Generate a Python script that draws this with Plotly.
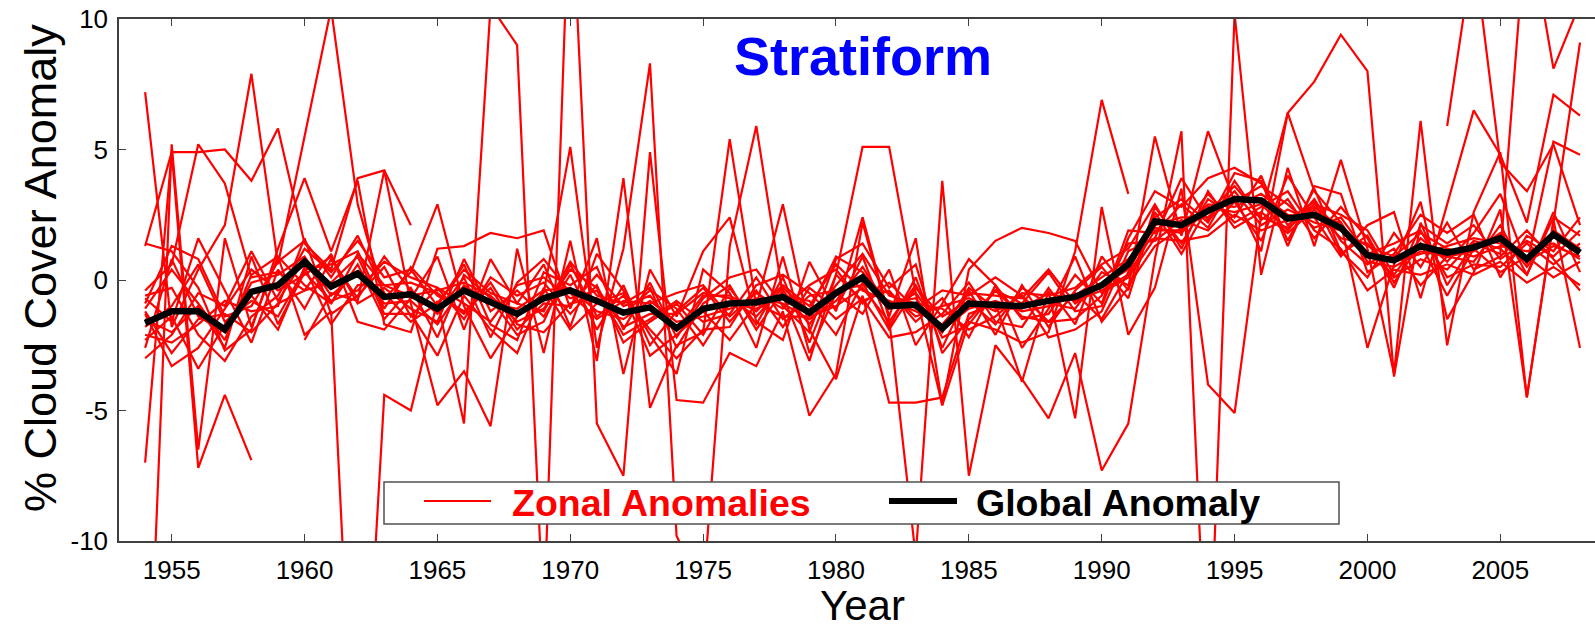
import plotly.graph_objects as go

# ---------------------------------------------------------------------------
# Data: stratiform cloud cover anomaly (%) by year, 1954-2008
# ---------------------------------------------------------------------------
years = list(range(1954, 2009))
N = None  # missing year

global_anomaly = [
    -1.65, -1.2, -1.2, -1.9, -0.45,
    -0.2, 0.7, -0.25, 0.25, -0.65,
    -0.55, -1.1, -0.4, -0.85, -1.3,
    -0.7, -0.4, -0.8, -1.25, -1.05,
    -1.85, -1.1, -0.9, -0.85, -0.65,
    -1.25, -0.5, 0.1, -1.0, -0.95,
    -1.85, -0.9, -0.95, -1.0, -0.8,
    -0.65, -0.2, 0.6, 2.25, 2.1,
    2.65, 3.1, 3.05, 2.35, 2.5,
    2.0, 0.95, 0.75, 1.3, 1.05,
    1.25, 1.6, 0.8, 1.75, 1.05,
]

zone_90s_80s = [
    -20.0, 5.2, -6.5, 1.6, -1.8,
    0.9, -2.1, -1.2, -22.0, -4.4,
    -5.0, -0.8, -5.5, 10.5, 9.0,
    -13.1, 15.8, -5.5, -7.5, 4.9,
    -4.6, -4.7, -2.8, -3.3, -1.2,
    -5.2, -3.6, 2.2, -1.5, -10.6,
    3.8, -7.5, -2.5, -3.8, -5.3,
    -2.8, -7.3, -5.5, 0.8, 5.7,
    -16.7, 10.2, 0.2, 4.3, 1.3,
    4.6, 1.2, -3.6, 6.1, -2.5,
    2.6, 4.9, -4.5, 2.3, -2.6,
]
zone_80s_70s = [
    1.3, 4.9, 4.9, 5.0, 3.8,
    5.8, 1.4, 0.4, 3.9, 4.2,
    2.1, N, N, N, N,
    N, N, N, N, N,
    N, N, N, N, N,
    N, N, N, N, N,
    N, N, N, N, N,
    N, N, N, N, N,
    N, N, N, N, N,
    N, N, N, N, N,
    N, N, N, N, N,
]
zone_70s_60s = [
    -7.0, 4.9, -7.2, -4.4, -6.9,
    N, -2.3, -0.5, -0.8, 4.2,
    -0.9, -4.8, -3.5, -5.6, 1.2,
    -2.8, 1.5, -3.1, 3.9, -4.9,
    -2.5, -2.0, 5.4, -1.0, 2.9,
    -1.9, -3.8, -0.6, -4.7, -4.7,
    -4.5, -1.3, -0.9, -3.9, -0.4,
    -5.3, 2.8, -2.1, -0.3, 3.5,
    -4.0, -5.1, 2.5, 6.4, 3.4,
    2.2, -2.6, 0.6, 3.0, -1.5,
    0.3, 2.7, -4.5, 2.2, 9.1,
]
zone_60s_50s = [
    -0.4, 0.6, 5.2, 3.7, 0.1,
    0.3, -0.4, 1.0, -1.6, -1.9,
    -0.7, 0.9, -1.9, 0.8, -0.9,
    0.6, -1.8, 1.0, -0.4, -2.1,
    -3.6, 0.4, -0.5, -2.6, 0.9,
    -2.8, -0.5, -1.3, 0.4, -2.5,
    -0.9, 0.8, -0.2, -2.6, -1.1,
    0.9, -1.6, -0.3, 5.5, 1.7,
    5.7, 3.0, 1.5, 4.0, 2.4,
    0.9, 2.1, 2.6, -0.7, 2.9,
    6.5, 4.8, 2.2, 7.1, 6.3,
]
zone_50s_40s = [
    -0.6, -0.3, -2.1, -3.1, -1.4,
    -0.6, 1.2, 0.3, 1.5, 0.1,
    0.4, -1.0, 0.6, -1.7, -2.3,
    0.3, -0.2, 0.5, -1.9, -0.1,
    -2.2, -0.7, 0.1, 0.4, -1.0,
    -2.0, 0.8, 1.4, -0.3, 0.6,
    -2.8, -1.5, -0.4, -0.9, 0.3,
    -1.2, -1.0, 1.6, 3.4, 2.8,
    3.9, 4.3, 3.7, 2.1, 2.9,
    2.5, 1.9, 0.2, 1.6, 0.7,
    1.8, 3.3, 0.6, 5.3, 4.8,
]
zone_40s_30s = [
    -1.1, 0.4, -0.9, -2.3, 0.2,
    0.9, -0.2, -0.9, 0.6, -1.5,
    -0.3, -2.2, 0.2, -0.7, -2.1,
    -1.6, 0.6, -1.4, -0.6, -1.9,
    -3.0, -1.9, -1.8, -0.2, 0.2,
    -0.5, -1.5, -0.7, -2.2, -2.0,
    -1.3, -0.1, -1.6, -1.8, -0.3,
    -1.7, 0.9, -0.4, 2.8, 1.4,
    3.1, 2.4, 4.0, 1.5, 3.5,
    1.1, 0.1, 1.8, 0.5, 2.2,
    0.4, 0.9, 1.9, 0.8, -0.4,
]
zone_30s_20s = [
    -2.1, -2.4, -1.7, -0.8, -1.2,
    -1.0, 1.6, -1.3, -0.6, 0.5,
    -1.4, -0.3, -1.5, 0.1, -0.6,
    -0.1, -1.3, -0.2, -2.4, -1.6,
    -0.9, -2.1, -0.3, -1.7, 0.1,
    -2.4, 0.2, -0.8, -0.4, -1.6,
    -0.7, -2.2, -0.2, -1.5, -1.3,
    0.2, -0.9, 1.9, 1.8, 2.9,
    2.0, 3.8, 2.3, 3.1, 1.6,
    2.8, 1.6, -0.3, 2.1, 1.4,
    2.1, 0.8, 1.5, 0.9, 1.9,
]
zone_20s_10s = [
    -1.3, -3.3, -2.6, -1.1, 0.4,
    -0.4, 0.2, 0.9, -0.9, -0.3,
    -1.1, -1.6, 0.8, -1.2, -0.4,
    -1.4, 0.2, -1.9, -0.2, -2.5,
    -1.2, -0.3, -1.6, -0.4, -1.8,
    -0.3, -1.1, 0.9, -1.8, 0.1,
    -2.6, -0.4, -2.1, -0.2, -1.8,
    -0.4, 0.5, -0.7, 2.6, 1.0,
    2.8, 2.6, 2.9, 1.9, 3.1,
    1.5, 0.6, 1.2, -0.2, 0.9,
    0.7, 2.1, 0.2, 2.6, 0.3,
]
zone_10s_eq = [
    -1.8, -1.0, 0.6, -1.6, -0.8,
    -1.4, 0.4, 0.6, 1.1, -1.1,
    0.5, -0.6, -1.2, -0.3, -1.9,
    -0.9, -1.0, 0.2, -1.0, -0.6,
    -1.9, -0.6, -0.6, -1.2, -0.2,
    -1.0, 0.6, -0.4, -0.8, -1.2,
    -1.7, -0.5, -0.6, -0.7, 0.4,
    -0.9, -0.2, 0.4, 2.1, 2.4,
    2.4, 3.4, 2.1, 2.7, 2.2,
    1.9, 1.3, 0.9, 1.8, 1.2,
    0.9, 1.3, 1.1, 1.4, 0.8,
]
zone_eq_10n = [
    -2.6, 0.8, -1.4, -2.0, -0.1,
    0.2, 0.9, -0.6, 0.3, -0.9,
    -0.8, -1.7, -0.2, -0.9, -1.1,
    -0.4, -0.3, -1.2, -1.5, -0.8,
    -1.6, -1.4, -1.1, -0.7, -0.9,
    -1.5, -0.8, 0.5, -1.1, -0.5,
    -1.9, -1.1, -0.8, -1.2, -1.0,
    -0.6, 0.1, 0.8, 2.0, 1.8,
    2.9, 2.8, 3.3, 2.5, 2.4,
    2.2, 0.7, 0.5, 1.1, 0.9,
    1.1, 1.8, 0.5, 1.9, 1.2,
]
zone_10n_20n = [
    -0.9, 1.3, 0.8, -1.4, -1.0,
    0.7, 1.5, 0.1, 1.7, -0.5,
    -1.6, -0.9, 0.4, -0.5, -0.9,
    -1.2, 0.7, -0.6, -0.9, -0.3,
    -2.6, -0.9, -0.2, -1.9, -0.4,
    -1.7, -0.2, 1.0, -0.6, -0.9,
    -1.1, -1.9, -1.4, -0.5, -0.6,
    -0.3, 0.6, 1.2, 2.9, 1.2,
    3.4, 2.0, 2.6, 1.8, 2.7,
    1.6, 1.4, 0.1, 0.8, 0.4,
    1.5, 1.2, 0.2, 2.4, 1.7,
]
zone_20n_30n = [
    -1.5, -2.0, -1.0, -2.6, 0.9,
    -1.7, 0.3, -0.8, -0.4, 0.7,
    0.1, -0.3, -0.9, -1.6, -0.2,
    0.1, -0.7, -0.4, -2.1, -1.5,
    -0.8, -1.6, -1.3, 0.1, -1.5,
    -0.6, -0.4, -0.2, -0.5, -1.4,
    -1.0, -0.7, -1.2, -0.6, -1.6,
    -1.5, -0.6, 1.4, 1.5, 2.3,
    1.9, 3.0, 3.6, 2.9, 2.0,
    2.4, 1.0, 1.4, 1.9, 0.1,
    0.6, 0.5, 1.4, 0.6, 1.4,
]
zone_30n_40n = [
    -1.2, -2.8, -1.5, -1.3, -2.0,
    -0.9, -0.4, -0.1, 0.9, -1.3,
    -1.3, -2.9, -0.6, -1.9, -2.8,
    -0.3, -1.9, -0.9, -0.5, -2.9,
    -2.1, -1.2, -2.3, -0.9, -1.4,
    -1.4, -1.0, -0.3, -1.6, -0.2,
    -2.2, -1.7, -0.4, -1.4, -1.6,
    -0.5, -1.5, 0.3, 2.4, 3.1,
    2.2, 4.1, 3.8, 1.3, 3.6,
    3.3, 0.3, 1.0, 2.5, 1.8,
    2.5, 0.1, 1.7, 1.1, 2.4,
]
zone_40n_50n = [
    -2.3, -1.4, -3.4, -1.7, -0.6,
    -1.9, 0.5, -1.7, -0.2, -0.2,
    -0.1, -0.5, -1.3, -0.1, -1.7,
    -2.0, -0.9, -0.7, -1.3, -0.4,
    -1.1, -2.5, -0.9, -1.1, -0.6,
    -0.8, -2.1, -0.1, -1.9, -0.3,
    -1.4, -0.8, -1.7, -0.3, -0.9,
    -1.1, 0.3, -0.2, 1.3, 2.0,
    3.3, 2.2, 2.8, 3.4, 1.9,
    1.2, -0.4, 0.4, 0.2, 0.6,
    0.2, 0.7, -0.1, 0.5, -0.2,
]
zone_50n_60n = [
    -0.7, -1.6, 1.6, -0.4, -2.4,
    0.4, -1.1, 0.8, -0.7, 0.9,
    -0.4, -1.3, 0.1, -2.2, -0.1,
    0.8, -0.5, -1.5, -0.8, -0.9,
    -0.5, -0.2, -1.4, -0.5, -1.1,
    -0.2, 0.4, -0.9, -0.1, -1.1,
    -0.4, -0.6, 0.1, -0.6, -2.2,
    -1.9, -1.2, 1.1, 1.6, 1.5,
    1.7, 2.5, 1.9, 2.3, 3.0,
    1.0, 1.7, -0.1, 1.4, -0.6,
    1.2, 0.3, 0.9, 0.1, 0.7,
]
zone_60n_70n = [
    -3.0, -2.1, -0.5, -1.0, 1.1,
    -0.8, 0.8, -0.9, 1.0, -0.2,
    -0.6, -0.4, -0.1, -0.6, -1.6,
    -1.1, 0.4, -0.3, -1.8, -1.3,
    -1.3, -0.5, -0.7, -1.4, -0.3,
    -1.2, 0.9, 0.3, -0.9, -0.7,
    -2.0, -0.3, -1.1, -1.1, -0.5,
    -0.8, -0.4, 0.2, 1.9, 1.9,
    2.6, 3.6, 2.4, 2.0, 2.8,
    2.0, 0.9, 0.7, 1.0, 1.3,
    1.6, 1.4, 0.7, 1.3, 0.9,
]
zone_70n_80n = [
    1.4, 1.1, -0.3, -2.7, -1.9,
    1.2, 3.9, 1.1, 3.8, -1.7,
    -2.0, 1.2, 1.3, 1.8, 1.6,
    1.9, -1.1, 1.6, -3.6, 0.4,
    -1.4, 1.1, 2.4, -1.6, -2.3,
    0.7, -1.2, 2.4, -1.4, 1.6,
    -4.8, 0.4, 1.5, 2.0, 1.8,
    1.5, -0.5, 0.1, 1.6, 3.9,
    2.3, 3.2, 1.1, 6.4, 7.6,
    9.4, 8.0, -3.7, 2.2, -0.2,
    1.4, 1.0, 14.0, 8.1, 10.6,
]
zone_80n_90n = [
    7.2, -1.8, 0.4, 2.1, 7.9,
    0.6, 5.5, 10.4, 2.9, -0.7,
    0.3, 2.9, -1.0, -3.0, -1.4,
    -0.5, 5.1, -2.6, 1.2, 8.3,
    -9.8, -12.0, 1.3, 5.9, -0.6,
    -3.1, 0.2, 5.1, 5.1, -0.5,
    -4.8, -1.6, -1.9, -2.4, -2.0,
    1.1, 6.9, 3.3, N, N,
    N, N, N, N, N,
    N, N, N, N, 5.9,
    12.7, 4.5, 3.4, 5.2, 2.1,
]

zonal_series = [
    zone_90s_80s, zone_80s_70s, zone_70s_60s, zone_60s_50s, zone_50s_40s,
    zone_40s_30s, zone_30s_20s, zone_20s_10s, zone_10s_eq, zone_eq_10n,
    zone_10n_20n, zone_20n_30n, zone_30n_40n, zone_40n_50n, zone_50n_60n,
    zone_60n_70n, zone_70n_80n, zone_80n_90n,
]

x_ticks = [1955, 1960, 1965, 1970, 1975, 1980, 1985, 1990, 1995, 2000, 2005]
y_ticks = [-10, -5, 0, 5, 10]
y_tick_text = ["-10", "-5", "0", "5", "10"]

# ---------------------------------------------------------------------------
# Figure
# ---------------------------------------------------------------------------
W, H = 1595, 632
M_L, M_R, M_T, M_B = 119, 0, 19, 91
PLOT_W = W - M_L - M_R
PLOT_H = H - M_T - M_B
FONT = "Liberation Sans, Arial, Helvetica, sans-serif"
AXIS_COLOR = "#404040"
RED = "#ff0000"


def px(x):
    """Horizontal pixel position -> paper coordinate."""
    return (x - M_L) / PLOT_W


def py(y):
    """Vertical pixel position (from top) -> paper coordinate."""
    return (H - M_B - y) / PLOT_H


fig = go.Figure()

for series in zonal_series:
    fig.add_trace(go.Scatter(
        x=years, y=series, mode="lines",
        line=dict(color=RED, width=2.2),
        connectgaps=False, showlegend=False, hoverinfo="skip",
    ))

fig.add_trace(go.Scatter(
    x=years, y=global_anomaly, mode="lines",
    line=dict(color="black", width=6.5),
    showlegend=False, hoverinfo="skip",
))

# Legend box drawn with shapes so the sample lines match the plot styling
shapes = [
    dict(type="rect", xref="paper", yref="paper",
         x0=px(384), x1=px(1339), y0=py(524), y1=py(482),
         line=dict(color="#505050", width=1.5), fillcolor="white", layer="above"),
    dict(type="line", xref="paper", yref="paper",
         x0=px(424), x1=px(491), y0=py(501), y1=py(501),
         line=dict(color=RED, width=2.2), layer="above"),
    dict(type="line", xref="paper", yref="paper",
         x0=px(889), x1=px(957), y0=py(501), y1=py(501),
         line=dict(color="black", width=6), layer="above"),
]

annotations = [
    dict(text="Zonal Anomalies", xref="paper", yref="paper",
         x=px(510), y=py(503), xanchor="left", yanchor="middle", showarrow=False,
         font=dict(family=FONT, size=37.5, color=RED, weight="bold")),
    dict(text="Global Anomaly", xref="paper", yref="paper",
         x=px(974), y=py(503), xanchor="left", yanchor="middle", showarrow=False,
         font=dict(family=FONT, size=37.5, color="black", weight="bold")),
    dict(text="Stratiform", xref="paper", yref="paper",
         x=px(863), y=py(56), xanchor="center", yanchor="middle", showarrow=False,
         font=dict(family=FONT, size=54, color="#0000ff", weight="bold")),
    dict(text="% Cloud Cover Anomaly", xref="paper", yref="paper",
         x=px(40), y=py(268), xanchor="center", yanchor="middle", showarrow=False,
         textangle=-90, font=dict(family=FONT, size=45, color="black")),
    dict(text="Year", xref="paper", yref="paper",
         x=px(862), y=py(605), xanchor="center", yanchor="middle", showarrow=False,
         font=dict(family=FONT, size=42, color="black")),
]

fig.update_layout(
    width=W, height=H,
    margin=dict(l=M_L, r=M_R, t=M_T, b=M_B, pad=0),
    plot_bgcolor="white", paper_bgcolor="white",
    font=dict(family=FONT, color="black"),
    shapes=shapes, annotations=annotations,
    showlegend=False,
)

fig.update_xaxes(
    range=[1953.017, 2008.564],
    tickvals=x_ticks, ticks="inside", ticklen=7, tickwidth=1.3, tickcolor=AXIS_COLOR,
    showline=True, linecolor=AXIS_COLOR, linewidth=1.5, mirror="ticks",
    showgrid=False, zeroline=False,
    tickfont=dict(family=FONT, size=26, color="black"),
    ticklabelstandoff=5,
)
fig.update_yaxes(
    range=[-10, 10],
    tickvals=y_ticks, ticktext=y_tick_text,
    ticks="inside", ticklen=7, tickwidth=1.3, tickcolor=AXIS_COLOR,
    showline=True, linecolor=AXIS_COLOR, linewidth=1.5, mirror=False,
    showgrid=False, zeroline=False,
    tickfont=dict(family=FONT, size=26, color="black"),
    ticklabelstandoff=4,
)

fig.write_html("out.html")
